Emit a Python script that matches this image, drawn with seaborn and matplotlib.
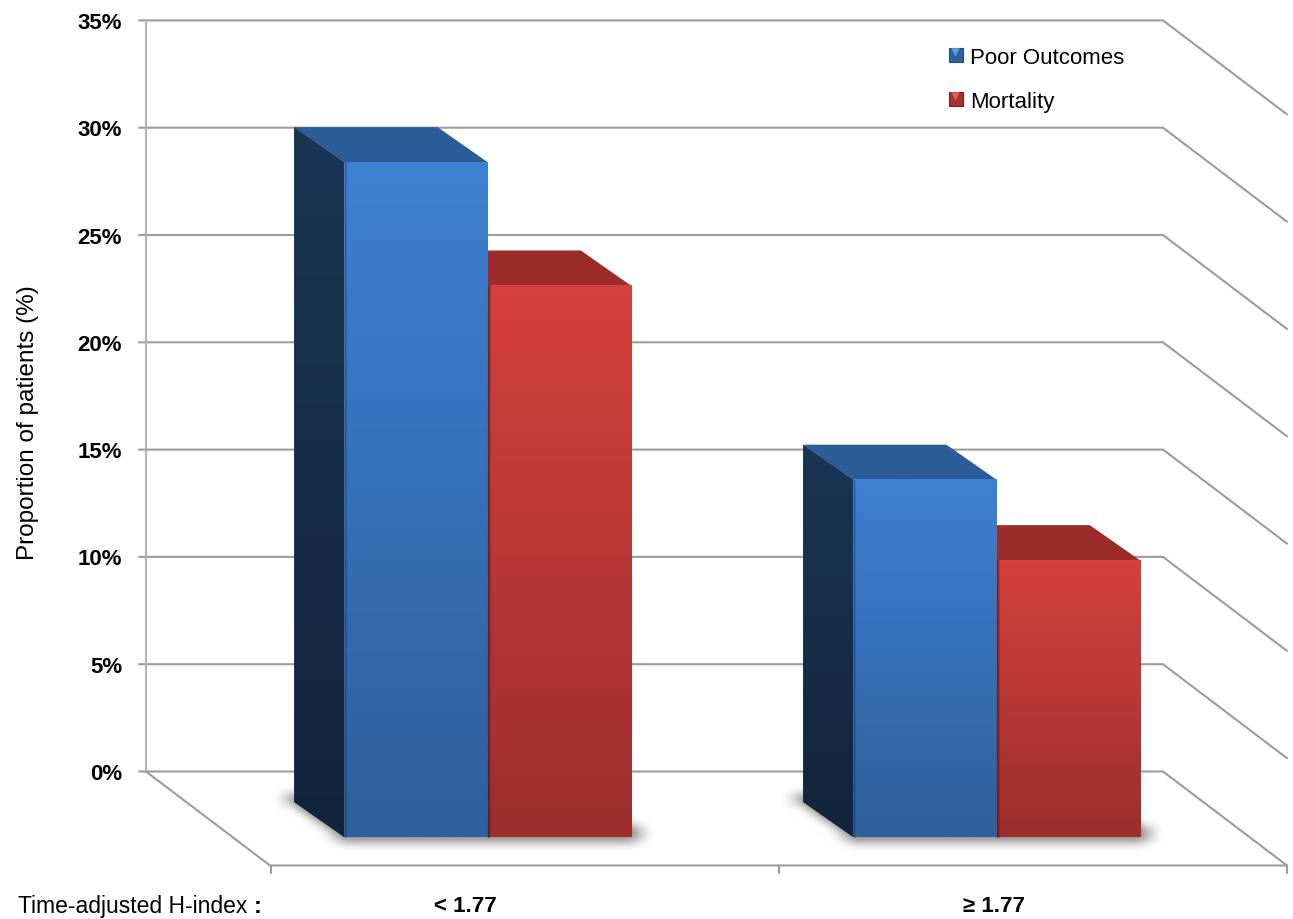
import numpy as np
import pandas as pd
import matplotlib
matplotlib.use('Agg')
import matplotlib.pyplot as plt
from matplotlib.colors import LinearSegmentedColormap
from matplotlib.patches import Polygon
import seaborn as sns

# values (front face height of each bar)
groups = ['< 1.77', '≥ 1.77']
outcomes = ['Poor Outcomes', 'Mortality']
poor_outcomes = [31.45, 16.65]
mortality = [25.7, 12.9]
y_ticks = [0, 5, 10, 15, 20, 25, 30, 35]

df = pd.DataFrame({
    'group': groups * 2,
    'outcome': [outcomes[0]] * 2 + [outcomes[1]] * 2,
    'value': poor_outcomes + mortality,
})

sns.set_theme(style='white')
plt.rcParams['font.family'] = ['Liberation Sans', 'DejaVu Sans']

W, H = 1293, 920
PX_CAT = 509.0   # pixels per category
PX_PCT = 21.46   # pixels per percent
X0, Y0 = 487.5, 837.0   # pixel of first group centre / zero of bar fronts


def cx(p):
    return (p - X0) / PX_CAT


def cy(p):
    return (Y0 - p) / PX_PCT


def soft_blur(img, dpi, r=5):
    # box blur run three times, close enough to a gaussian
    pad = r * 3
    out = np.pad(img, ((pad, pad), (pad, pad), (0, 0)))
    kernel = np.ones(2 * r + 1) / (2 * r + 1)
    for _ in range(3):
        out = np.apply_along_axis(lambda v: np.convolve(v, kernel, mode='same'), 0, out)
        out = np.apply_along_axis(lambda v: np.convolve(v, kernel, mode='same'), 1, out)
    return out, -pad, -pad


fig = plt.figure(figsize=(W / 100, H / 100), dpi=100)
ax = fig.add_axes([0, 0, 1, 1])

sns.barplot(data=df, x='group', y='value', hue='outcome', order=groups, hue_order=outcomes,
            palette=['#3672bb', '#b93633'], width=0.563, gap=0, saturation=1,
            edgecolor='none', legend=False, ax=ax, zorder=4)

# back wall and floor
grid_c = '#9c9c9c'
wall_l, wall_r = cx(146), cx(1163)
wall_0 = cy(771.5)
side_dx, side_dy = 124 / PX_CAT, -94 / PX_PCT
for t in y_ticks:
    yy = wall_0 + t
    ax.plot([wall_l - 7 / PX_CAT, wall_r, wall_r + side_dx], [yy, yy, yy + side_dy],
            color=grid_c, lw=1.5, zorder=1, solid_joinstyle='miter')
    ax.text(cx(122), yy - 2 / PX_PCT, f'{t}%', ha='right', va='center', fontsize=16, fontweight='bold', color='black')
ax.plot([wall_l, wall_l], [wall_0, wall_0 + y_ticks[-1]], color='#b4b4b4', lw=1.5, zorder=1)
floor_y = wall_0 + side_dy
ax.plot([wall_l, wall_l + side_dx, wall_r + side_dx], [wall_0, floor_y, floor_y],
        color=grid_c, lw=1.5, zorder=1, solid_joinstyle='miter')
for px in [271, 779, 1287]:
    ax.plot([cx(px), cx(px)], [floor_y, floor_y - 7 / PX_PCT], color=grid_c, lw=1.5, zorder=1)

# 3D look of the bars
depth_x, depth_y = 50 / PX_CAT, 35 / PX_PCT
blue_front = LinearSegmentedColormap.from_list('bf', ['#2f5f9c', '#3e80d2'])
red_front = LinearSegmentedColormap.from_list('rf', ['#9c2e2d', '#d5413c'])
side_cmap = LinearSegmentedColormap.from_list('sd', ['#12243c', '#1a3654'])
ramp = np.linspace(1, 0, 256).reshape(-1, 1)

blue_bars, red_bars = ax.containers[0], ax.containers[1]
for blue, red in zip(blue_bars, red_bars):
    bx, bw, bh = blue.get_x(), blue.get_width(), blue.get_height()
    rx, rw, rh = red.get_x(), red.get_width(), red.get_height()

    # soft shadow on the floor
    shadow = [(bx - depth_x - 14 / PX_CAT, depth_y + 3 / PX_PCT), (bx - depth_x, depth_y + 6 / PX_PCT),
              (rx + rw, 16 / PX_PCT), (rx + rw + 8 / PX_CAT, 11 / PX_PCT),
              (rx + rw + 15 / PX_CAT, 2 / PX_PCT), (rx + rw, -3 / PX_PCT),
              (bx, -3 / PX_PCT), (bx - 10 / PX_CAT, 1 / PX_PCT)]
    sh = ax.add_patch(Polygon(shadow, closed=True, facecolor='#555555', edgecolor='none', alpha=0.75, zorder=1.5))
    sh.set_agg_filter(soft_blur)

    # left side of the blue bar
    side = Polygon([(bx, 0), (bx - depth_x, depth_y), (bx - depth_x, bh + depth_y), (bx, bh)],
                   closed=True, facecolor='#16304c', edgecolor='none', zorder=2)
    ax.add_patch(side)
    im = ax.imshow(ramp, cmap=side_cmap, extent=(bx - depth_x, bx, 0, bh + depth_y), aspect='auto', zorder=2.1)
    im.set_clip_path(side)

    # top faces
    ax.add_patch(Polygon([(bx, bh), (bx - depth_x, bh + depth_y), (bx + bw - depth_x, bh + depth_y), (bx + bw, bh)],
                         closed=True, facecolor='#2c5d98', edgecolor='none', zorder=3))
    ax.add_patch(Polygon([(rx, rh), (rx - depth_x, rh + depth_y), (rx + rw - depth_x, rh + depth_y), (rx + rw, rh)],
                         closed=True, facecolor='#9b2c2a', edgecolor='none', zorder=2.5))

    # front faces
    ax.imshow(ramp, cmap=blue_front, extent=(bx, bx + bw, 0, bh), aspect='auto', zorder=5)
    ax.imshow(ramp, cmap=red_front, extent=(rx, rx + rw, 0, rh), aspect='auto', zorder=5)

    # dark soft seam on the left of each front face
    for k, a in enumerate([0.75, 0.45, 0.2]):
        ax.plot([rx + (k + 0.5) / PX_CAT] * 2, [0, rh], color='#5a1514', lw=0.8, alpha=a, zorder=6)
    for k, a in enumerate([0.35, 0.15]):
        ax.plot([bx + (k + 0.5) / PX_CAT] * 2, [0, bh], color='#12243c', lw=0.8, alpha=a, zorder=6)

ax.set_xlim(cx(0), cx(W))
ax.set_ylim(cy(H - 1), cy(-1))
ax.set_axis_off()

# legend
ax.scatter([cx(955.5)], [cy(55)], marker='s', s=100, color='#2f5f9c', edgecolor='#25507f', linewidth=0.8, zorder=7)
ax.scatter([cx(955.5)], [cy(52.5)], marker='v', s=38, color='#5b9be0', edgecolor='none', zorder=8)
ax.scatter([cx(955.5)], [cy(99)], marker='s', s=100, color='#a8302e', edgecolor='#7d2422', linewidth=0.8, zorder=7)
ax.scatter([cx(955.5)], [cy(96.5)], marker='v', s=38, color='#e06060', edgecolor='none', zorder=8)
ax.text(cx(970), cy(57), outcomes[0], ha='left', va='center', fontsize=16, color='black')
ax.text(cx(970), cy(102), outcomes[1], ha='left', va='center', fontsize=16, color='black')

# axis captions
ax.text(cx(28), cy(422), 'Proportion of patients (%)', rotation=90, ha='center', va='center', fontsize=17.5, color='black')
ax.text(cx(18), cy(906), 'Time-adjusted H-index', ha='left', va='center', fontsize=16.5, color='black')
ax.text(cx(254), cy(906), ':', ha='left', va='center', fontsize=17, fontweight='bold', color='black')
ax.text(cx(465), cy(906), groups[0], ha='center', va='center', fontsize=16, fontweight='bold', color='black')
ax.text(cx(994), cy(906), groups[1], ha='center', va='center', fontsize=16, fontweight='bold', color='black')

fig.savefig('out.png', dpi=100)
